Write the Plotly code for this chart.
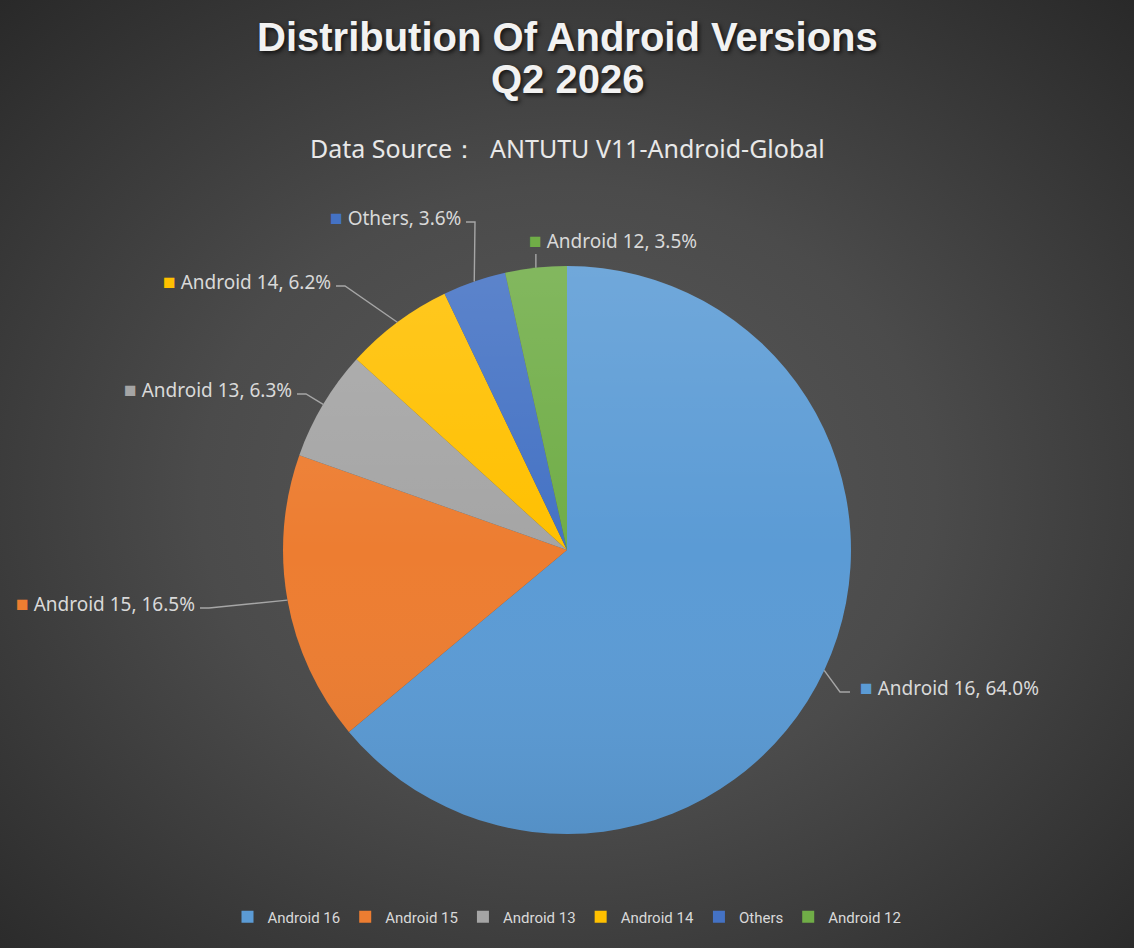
import base64
import math
import plotly.graph_objects as go

# ---- data ----
versions = ["Android 16", "Android 15", "Android 13", "Android 14", "Others", "Android 12"]
shares = [64.0, 16.5, 6.3, 6.2, 3.6, 3.5]
colors = ["#5B9BD5", "#ED7D31", "#A5A5A5", "#FFC000", "#4472C4", "#70AD47"]

title_lines = ["Distribution Of Android Versions", "Q2 2026"]
subtitle_text = "Data Source：  ANTUTU V11-Android-Global"

# ---- layout config (pixels) ----
W, H = 1134, 948
CX, CY, R = 567, 550, 284
# label text anchor points and side
label_x = [858, 197, 294, 333, 463, 527]
label_y = [687, 603, 389, 281, 217, 240]
label_side = ["R", "L", "L", "L", "L", "T"]
title_y = [37, 79]


def px(x):
    return x / W


def py(y):
    return 1 - y / H


# background radial gradient
bg_svg = f"""<svg xmlns='http://www.w3.org/2000/svg' width='{W}' height='{H}'>
<defs><radialGradient id='g' cx='50%' cy='52%' r='72%'>
<stop offset='0' stop-color='#595959'/><stop offset='0.45' stop-color='#4b4b4b'/>
<stop offset='1' stop-color='#292929'/></radialGradient></defs>
<rect width='{W}' height='{H}' fill='url(#g)'/></svg>"""
bg_uri = "data:image/svg+xml;base64," + base64.b64encode(bg_svg.encode()).decode()

# subtle shading overlay over the pie
D = 2 * R
ov_svg = f"""<svg xmlns='http://www.w3.org/2000/svg' width='{D}' height='{D}'>
<defs><linearGradient id='l' x1='0' y1='0' x2='0' y2='1'>
<stop offset='0' stop-color='#ffffff' stop-opacity='0.13'/>
<stop offset='0.5' stop-color='#ffffff' stop-opacity='0'/>
<stop offset='1' stop-color='#000000' stop-opacity='0.07'/></linearGradient></defs>
<circle cx='{R}' cy='{R}' r='{R}' fill='url(#l)'/></svg>"""
ov_uri = "data:image/svg+xml;base64," + base64.b64encode(ov_svg.encode()).decode()

fig = go.Figure()
fig.add_trace(go.Pie(
    labels=versions,
    values=shares,
    sort=False,
    direction="clockwise",
    rotation=0,
    marker=dict(colors=colors, line=dict(width=0)),
    textinfo="none",
    textposition="none",
    hoverinfo="label+percent",
    domain=dict(x=[px(CX - R), px(CX + R)], y=[py(CY + R), py(CY - R)]),
))

# leader lines and labels
total = sum(shares)
cum = 0.0
shapes = []
annotations = []
for name, v, c, lx, ly, side in zip(versions, shares, colors, label_x, label_y, label_side):
    mid = (cum + v / 2) / total * 2 * math.pi
    cum += v
    ax = CX + R * math.sin(mid)
    ay = CY - R * math.cos(mid)
    if side == "R":
        pts = [(ax, ay), (lx - 18, ly + 5), (lx - 8, ly + 5)]
        xanchor = "left"
    elif side == "L":
        pts = [(lx + 3, ly + 5), (lx + 12, ly + 5), (ax, ay)]
        xanchor = "right"
    else:
        pts = [(ax, ly + 14), (ax, ay)]
        xanchor = "left"
    path = "M " + " L ".join(f"{px(x)},{py(y)}" for x, y in pts)
    shapes.append(dict(type="path", path=path, xref="paper", yref="paper",
                       line=dict(color="#a6a6a6", width=1.4), layer="above"))
    annotations.append(dict(
        x=px(lx), y=py(ly), xref="paper", yref="paper",
        xanchor=xanchor, yanchor="middle", showarrow=False,
        text=f"<span style='color:{c};font-size:21px'>■</span> {name}, {v:.1f}%",
        font=dict(family="Noto Sans, Lato, sans-serif", size=19, color="#d9d9d9"),
    ))

for t, ty in zip(title_lines, title_y):
    annotations.append(dict(
        x=0.5, y=py(ty), xref="paper", yref="paper", xanchor="center", yanchor="middle",
        showarrow=False, text=f"<b>{t}</b>",
        font=dict(family="Liberation Sans, Arial, sans-serif", size=40, color="#f2f2f2",
                  shadow="2px 2px 4px rgba(0,0,0,0.7)"),
    ))

annotations.append(dict(
    x=0.5, y=py(148), xref="paper", yref="paper", xanchor="center", yanchor="middle",
    showarrow=False, text=subtitle_text,
    font=dict(family="Noto Sans, Lato, sans-serif", size=25, color="#e8e8e8"),
))

fig.update_layout(
    width=W, height=H,
    margin=dict(l=0, r=0, t=0, b=0),
    paper_bgcolor="#404040",
    plot_bgcolor="rgba(0,0,0,0)",
    showlegend=True,
    legend=dict(
        orientation="h", x=0.5, xanchor="center", y=py(917), yanchor="middle",
        font=dict(family="Liberation Sans Narrow, Roboto, sans-serif", size=15, color="#d9d9d9"),
        bgcolor="rgba(0,0,0,0)", itemwidth=30, traceorder="normal",
    ),
    images=[
        dict(source=bg_uri, xref="paper", yref="paper", x=0, y=1, sizex=1, sizey=1,
             xanchor="left", yanchor="top", sizing="stretch", layer="below"),
        dict(source=ov_uri, xref="paper", yref="paper", x=px(CX - R), y=py(CY - R),
             sizex=px(2 * R), sizey=2 * R / H, xanchor="left", yanchor="top",
             sizing="stretch", layer="above"),
    ],
    shapes=shapes,
    annotations=annotations,
)

fig.write_html("out.html")
